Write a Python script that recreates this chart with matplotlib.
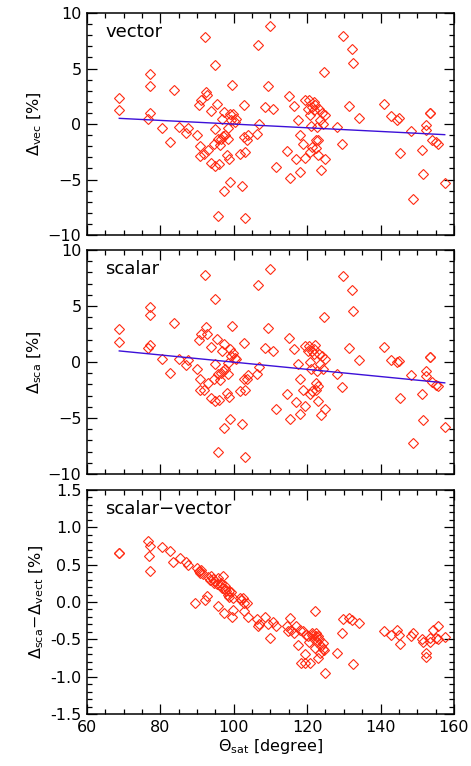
import matplotlib
matplotlib.use('Agg')
import matplotlib.pyplot as plt
from matplotlib.ticker import MultipleLocator, FormatStrFormatter
import numpy as np

# %% Data
theta = [68.8, 68.8, 76.6, 77.2, 77.2, 77.2, 80.5, 82.6, 83.6, 85.2, 87.1, 87.5,
         89.9, 90.6, 90.8, 90.8, 91.0, 92.0, 92.2, 92.3, 92.7, 93.0, 93.7, 93.9,
         94.6, 94.9, 95.0, 94.9, 95.5, 95.7, 95.7, 96.1, 96.2, 96.5, 96.9, 97.1,
         97.4, 97.4, 97.7, 98.1, 98.5, 98.5, 98.7, 98.9, 98.9, 99.2, 99.6, 99.8,
         100.3, 100.7, 101.6, 102.3, 102.7, 102.8, 103.0, 103.1, 103.5, 103.9,
         106.2, 106.6, 106.9, 108.4, 109.2, 109.8, 110.6, 111.5, 114.6, 115.0,
         115.4, 116.4, 116.9, 117.6, 118.1, 118.1, 118.9, 119.3, 119.5, 120.1,
         120.5, 120.8, 120.9, 121.0, 121.2, 121.4, 121.8, 122.0, 122.2, 122.3,
         122.5, 122.7, 123.0, 123.0, 123.2, 123.4, 123.7, 124.0, 124.3, 124.5,
         124.8, 124.8, 128.2, 129.6, 129.9, 131.3, 132.3, 132.6, 134.2, 140.9,
         142.9, 144.6, 145.0, 145.4, 148.2, 148.8, 151.4, 151.7, 152.3, 152.5,
         153.4, 153.6, 154.1, 155.2, 155.6, 157.5]

d_vec = [2.33, 1.23, 0.48, 1.02, 4.49, 3.47, -0.36, -1.62, 3.02, -0.27, -0.81, -0.39,
         -1.02, 1.68, -1.98, -2.90, 2.13, -2.66, 7.81, 2.87, 2.57, -2.31, -3.47, 1.14,
         -1.80, 5.36, -0.42, -3.77, 1.83, -1.32, -8.26, -3.56, -1.86, -1.32, 0.48, -1.11,
         -6.02, 1.08, -1.02, -2.81, -0.36, -1.32, -3.17, -5.21, 0.93, 0.33, 3.50, 0.93,
         0.18, 0.48, -2.66, -5.57, 1.71, -1.17, -2.51, -8.44, -1.47, -1.02,
         -0.87, 7.13, 0.03, 1.53, 3.38, 8.86, 1.38, -3.86, -2.46, 2.51,
         -4.85, 1.59, -3.17, 0.33, -1.02, -4.31, -1.77, 2.13, -3.02, 1.38,
         2.13, -2.51, 0.78, -0.21, 1.53, -2.07, 1.98, 1.23, 1.68, -2.13,
         -1.47, -0.27, -2.81, -1.47, 1.38, 0.33, -4.16, 1.02, 0.03, 4.67,
         -3.11, 0.78, -0.27, -1.83, 7.96, 1.62, 6.77, 5.48, 0.57, 1.83,
         0.69, 0.39, 0.57, -2.57, -0.63, -6.80, -2.37, -4.52, -0.51, -0.12,
         0.99, 0.99, -1.47, -1.62, -1.77, -5.30]

d_sca = [2.93, 1.80, 1.29, 1.53, 4.88, 4.19, 0.30, -1.02, 3.50, 0.24, -0.30, 0.15,
         -0.60, 1.95, -1.56, -2.54, 2.49, -2.46, 7.81, 3.14, 2.54, -1.86, -3.20, 1.38,
         -1.56, 5.63, -0.21, -3.50, 2.04, -1.11, -8.05, -3.35, -1.65, -0.96, 0.99, -0.81,
         -5.90, 1.65, -0.66, -2.75, -0.06, -1.11, -3.14, -5.06, 1.14, 0.54, 3.23, 0.84,
         0.39, 0.24, -2.60, -5.51, 1.74, -1.50, -2.54, -8.47, -1.50, -1.20,
         -1.05, 6.89, -0.42, 1.29, 3.08, 8.35, 0.99, -4.19, -2.84, 2.10,
         -5.09, 1.14, -3.56, -0.21, -1.56, -4.64, -2.54, 1.44, -3.95, 0.99,
         1.44, -2.90, 0.03, -0.66, 0.99, -2.60, 1.20, 0.69, 1.53, -2.46,
         -1.86, -0.81, -3.50, -2.16, 0.69, -0.21, -4.76, 0.54, -0.66, 3.98,
         -4.16, 0.24, -1.05, -2.22, 7.69, 1.29, 6.47, 4.58, 0.21, 1.35,
         0.15, 0.03, 0.09, -3.20, -1.17, -7.25, -2.90, -5.15, -1.26, -0.81,
         0.45, 0.45, -1.80, -2.01, -2.10, -5.81]

theta_diff = [68.8, 68.8, 76.6, 77.2, 77.0, 77.2, 80.5, 82.6, 83.5, 85.3, 86.9, 87.5,
              89.4, 89.9, 90.6, 90.8, 91.2, 91.7, 92.2, 92.7, 93.0, 93.5, 93.9, 94.4,
              94.7, 94.9, 95.3, 95.7, 95.8, 96.2, 96.5, 96.8, 97.1, 97.3, 97.6, 97.7,
              98.0, 98.3, 98.6, 98.8, 99.2, 99.4, 99.8, 99.8, 101.6, 102.0, 102.5,
              102.9, 102.9, 103.5, 103.9, 106.2, 106.6, 106.9, 108.5, 109.4, 109.8,
              110.7, 111.5, 114.6, 114.8, 115.4, 115.7, 116.4, 117.1, 117.6, 118.0,
              118.4, 118.9, 119.3, 119.5, 119.8, 120.3, 120.5, 120.8, 121.2, 121.4,
              121.8, 122.1, 122.1, 122.3, 122.5, 122.7, 123.0, 123.0, 123.2, 123.4,
              123.9, 124.2, 124.3, 124.6, 124.9, 128.1, 129.6, 129.9, 131.3, 132.3,
              132.6, 134.2, 140.9, 142.9, 144.6, 145.0, 145.4, 148.2, 148.8, 151.4,
              151.7, 152.3, 152.5, 153.4, 153.6, 154.3, 155.2, 155.6, 155.8, 157.5]

d_diff = [0.66, 0.65, 0.82, 0.75, 0.61, 0.42, 0.73, 0.68, 0.53, 0.59, 0.53, 0.50,
          -0.02, 0.45, 0.41, 0.39, 0.43, 0.37, 0.03, 0.08, 0.33, 0.30, 0.35, 0.31,
          0.26, 0.28, 0.24, -0.05, 0.32, 0.23, 0.26, 0.19, 0.35, -0.15, 0.17, 0.21,
          0.15, 0.10, 0.15, 0.07, 0.13, -0.20, -0.11, 0.05, 0.06, 0.03, 0.05,
          -0.01, -0.12, -0.02, -0.20, -0.23, -0.32, -0.30, -0.20, -0.30, -0.48,
          -0.27, -0.32, -0.32, -0.39, -0.21, -0.37, -0.41, -0.32, -0.57, -0.37,
          -0.82, -0.39, -0.69, -0.82, -0.44, -0.46, -0.53, -0.82, -0.44, -0.41,
          -0.50, -0.12, -0.62, -0.42, -0.46, -0.54, -0.75, -0.46, -0.50, -0.68,
          -0.59, -0.63, -0.55, -0.64, -0.95, -0.68, -0.41, -0.23, -0.21, -0.24,
          -0.83, -0.28, -0.39, -0.44, -0.37, -0.44, -0.56, -0.46, -0.41, -0.50,
          -0.53, -0.68, -0.73, -0.53, -0.48, -0.37, -0.48, -0.32, -0.50, -0.47]

# linear fits drawn in the reference (end points)
fit_x = [68.8, 157.5]
fit_vec = [0.51, -0.96]
fit_sca = [0.99, -1.86]

# %% Plot
red = '#ff2a12'
blue = '#3c10d8'
plt.rcParams['font.family'] = 'DejaVu Sans'
plt.rcParams['font.size'] = 11.5

fig = plt.figure(figsize=(4.71, 7.66), dpi=100)
ax1 = fig.add_axes([0.1847, 0.6932, 0.779, 0.2898])
ax2 = fig.add_axes([0.1847, 0.3812, 0.779, 0.2924])
ax3 = fig.add_axes([0.1847, 0.0679, 0.779, 0.2924])

mk = dict(marker='D', ms=5.6, mfc='none', mec=red, mew=0.8, ls='none')

ax1.plot(theta, d_vec, **mk)
ax1.plot(fit_x, fit_vec, color=blue, lw=1.0)
ax2.plot(theta, d_sca, **mk)
ax2.plot(fit_x, fit_sca, color=blue, lw=1.0)
ax3.plot(theta_diff, d_diff, **mk)

for ax in (ax1, ax2):
    ax.set_ylim(-10, 10)
    ax.yaxis.set_major_locator(MultipleLocator(5))
    ax.yaxis.set_minor_locator(MultipleLocator(1))
ax3.set_ylim(-1.5, 1.5)
ax3.yaxis.set_major_locator(MultipleLocator(0.5))
ax3.yaxis.set_minor_locator(MultipleLocator(0.1))
ax3.yaxis.set_major_formatter(FormatStrFormatter('%.1f'))

for ax in (ax1, ax2, ax3):
    ax.set_xlim(60, 160)
    ax.xaxis.set_major_locator(MultipleLocator(20))
    ax.xaxis.set_minor_locator(MultipleLocator(5))
    ax.tick_params(which='both', direction='in', top=True, right=True, width=0.9)
    ax.tick_params(which='major', length=7, pad=4)
    ax.tick_params(which='minor', length=3.5)
    for s in ax.spines.values():
        s.set_linewidth(1.1)
ax1.tick_params(labelbottom=False)
ax2.tick_params(labelbottom=False)

ax1.text(0.05, 0.955, 'vector', transform=ax1.transAxes, va='top', fontsize=13)
ax2.text(0.05, 0.955, 'scalar', transform=ax2.transAxes, va='top', fontsize=13)
ax3.text(0.05, 0.955, 'scalar\u2212vector', transform=ax3.transAxes, va='top', fontsize=13)

ax1.set_ylabel(r'$\Delta_{\rm vec}$ [%]', labelpad=3)
ax2.set_ylabel(r'$\Delta_{\rm sca}$ [%]', labelpad=3)
ax3.set_ylabel(r'$\Delta_{\rm sca}\!-\!\Delta_{\rm vect}$ [%]', labelpad=3)
ax3.set_xlabel(r'$\Theta_{\rm sat}$ [degree]', labelpad=2)

fig.savefig('out.png', dpi=100)
